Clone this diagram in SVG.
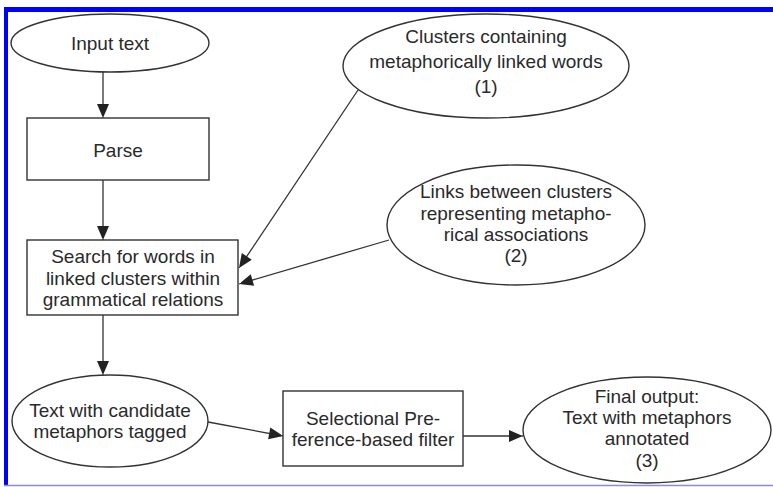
<svg xmlns="http://www.w3.org/2000/svg" width="773" height="487" viewBox="0 0 773 487">
<style>
.n{fill:#fff;stroke:#333;stroke-width:1.4}
.t{font-family:"Liberation Sans",Arial,sans-serif;font-size:19px;fill:#2a2a2a;text-anchor:middle}
.e{fill:none;stroke:#333;stroke-width:1.3}
</style>
<defs>
<marker id="ah" viewBox="0 0 10 10" refX="10" refY="5" markerWidth="10" markerHeight="10" markerUnits="userSpaceOnUse" orient="auto">
<path d="M0,1 L10,5 L0,9 z" fill="#222"/>
</marker>
<marker id="av" viewBox="0 0 10 14" refX="14" refY="7" markerWidth="14" markerHeight="14" markerUnits="userSpaceOnUse" orient="auto">
<path d="M0,1 L14,7 L0,13 z" fill="#222"/>
</marker>
</defs>
<rect x="0" y="0" width="773" height="487" fill="#fff"/>
<rect x="4" y="7" width="769" height="5" fill="#0000ff"/>
<rect x="4" y="7" width="4" height="479" fill="#0000ff"/>
<line x1="4" y1="485.5" x2="773" y2="485.5" stroke="#8888ff" stroke-width="1.5"/>

<g id="connectors">
<line class="e" x1="103" y1="72" x2="103" y2="118" marker-end="url(#av)"/>
<line class="e" x1="103" y1="180" x2="103" y2="240" marker-end="url(#av)"/>
<line class="e" x1="103" y1="315" x2="103" y2="375" marker-end="url(#av)"/>
<line class="e" x1="358" y1="90" x2="239" y2="268" marker-end="url(#av)"/>
<line class="e" x1="389" y1="240" x2="239" y2="284" marker-end="url(#av)"/>
<line class="e" x1="208" y1="422" x2="283" y2="436" marker-end="url(#av)"/>
<line class="e" x1="463" y1="436" x2="523" y2="436" marker-end="url(#av)"/>
</g>

<g id="input">
<ellipse class="n" cx="110" cy="43" rx="99" ry="29"/>
<text class="t" x="110" y="50">Input text</text>
</g>
<g id="clusters">
<ellipse class="n" cx="486" cy="66" rx="143" ry="52"/>
<text class="t" x="486" y="43">Clusters containing</text>
<text class="t" x="486" y="68">metaphorically linked words</text>
<text class="t" x="486" y="93">(1)</text>
</g>
<g id="parse">
<rect class="n" x="27" y="118" width="182" height="62"/>
<text class="t" x="118" y="157">Parse</text>
</g>
<g id="links">
<ellipse class="n" cx="516" cy="225" rx="129" ry="60"/>
<text class="t" x="516" y="198">Links between clusters</text>
<text class="t" x="516" y="220">representing metapho-</text>
<text class="t" x="516" y="241">rical associations</text>
<text class="t" x="516" y="262">(2)</text>
</g>
<g id="search">
<rect class="n" x="27" y="240" width="211" height="75"/>
<text class="t" x="133" y="263">Search for words in</text>
<text class="t" x="133" y="285">linked clusters within</text>
<text class="t" x="133" y="306">grammatical relations</text>
</g>
<g id="candidate">
<ellipse class="n" cx="110" cy="421" rx="98" ry="46"/>
<text class="t" x="110" y="417">Text with candidate</text>
<text class="t" x="110" y="438">metaphors tagged</text>
</g>
<g id="filter">
<rect class="n" x="283" y="391" width="180" height="75"/>
<text class="t" x="373" y="425">Selectional Pre-</text>
<text class="t" x="373" y="446">ference-based filter</text>
</g>
<g id="final">
<ellipse class="n" cx="647" cy="430" rx="124" ry="53"/>
<text class="t" x="647" y="403">Final output:</text>
<text class="t" x="647" y="424">Text with metaphors</text>
<text class="t" x="647" y="445">annotated</text>
<text class="t" x="647" y="467">(3)</text>
</g>
</svg>
